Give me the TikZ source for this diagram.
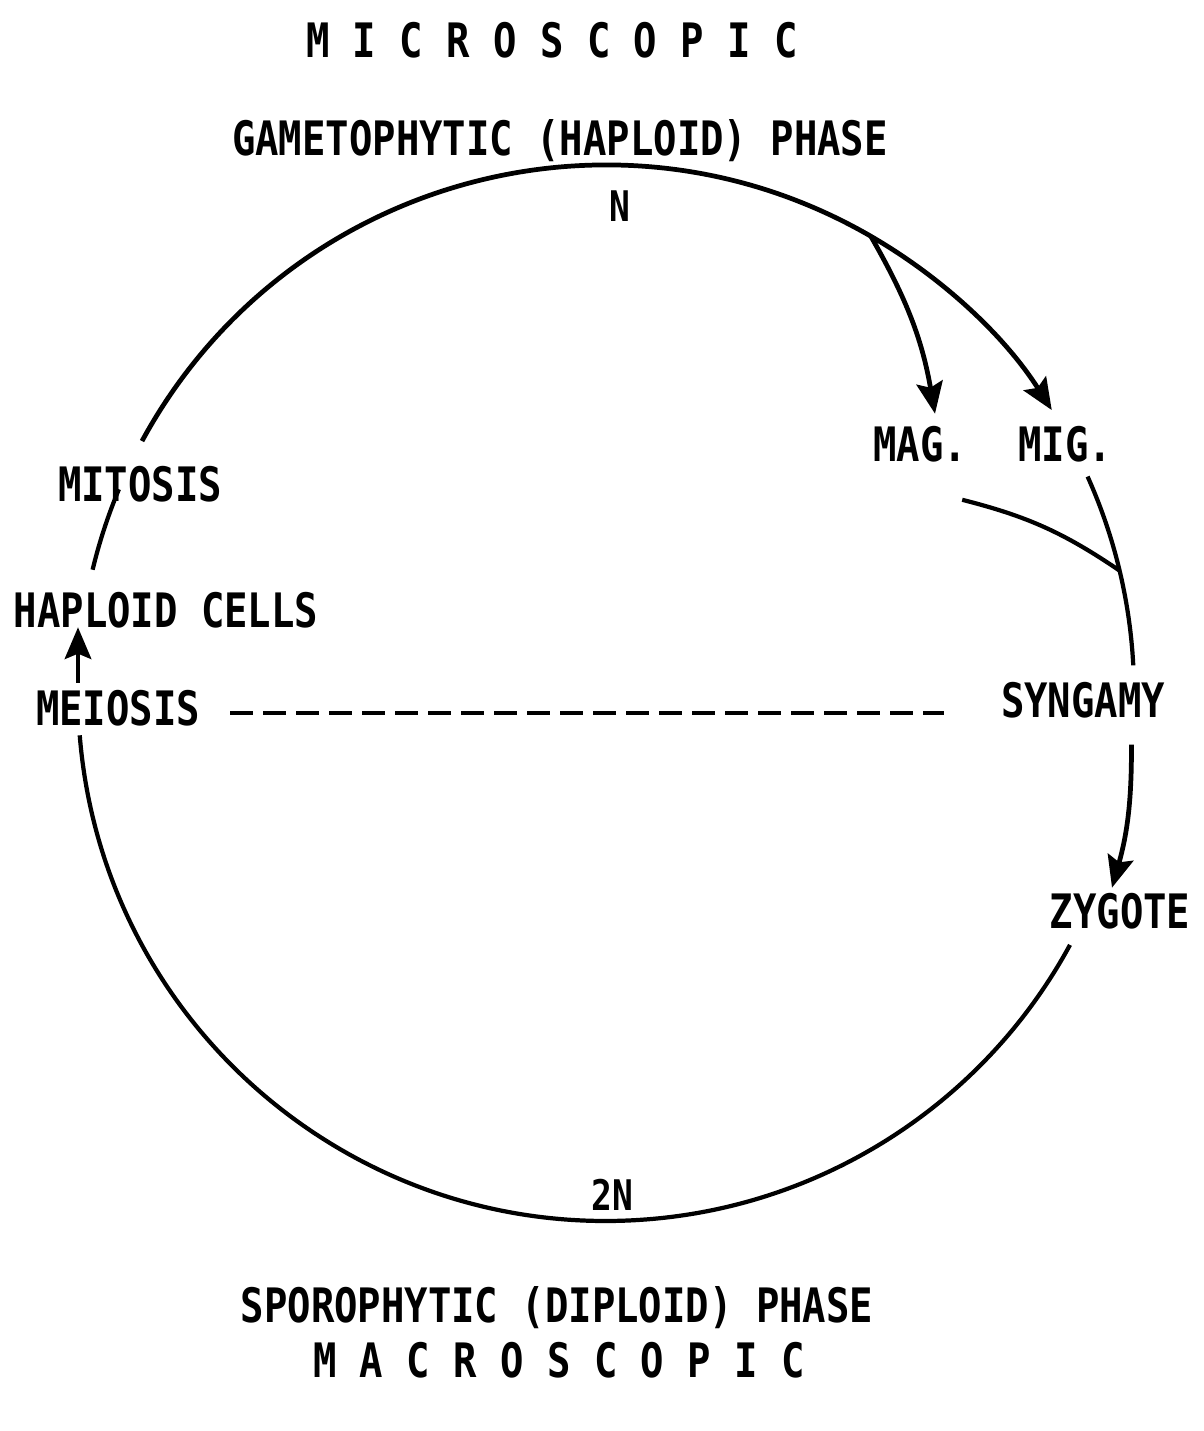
\documentclass[tikz,border=0pt]{standalone}
\usepackage{fontspec}
\setmainfont{DejaVu Sans Mono}[FakeStretch=0.82]
\usetikzlibrary{arrows.meta,calc}
\newcommand{\ringrad}{10.56}
\begin{document}
\begin{tikzpicture}[
    lbl/.style={font=\bfseries\fontsize{27}{30}\selectfont, inner sep=0pt},
    sml/.style={font=\bfseries\fontsize{24}{26}\selectfont, inner sep=0pt},
    ring/.style={line width=2.4pt},
    arr/.style={line width=2.7pt, -{Stealth[length=18pt,width=15pt,inset=3pt]}}
]
    \useasboundingbox (0,0) rectangle (24.06,28.62);
    \coordinate (c) at (12.12,14.76);

    % Titel oben
    \node[lbl] (micro) at (11.04,27.82) {M I C R O S C O P I C};
    \node[lbl] (gameto) at (11.2,25.8) {GAMETOPHYTIC (HAPLOID) PHASE};
    \node[sml] (n) at (12.4,24.5) {N};

    % Gameten
    \node[lbl] (mag) at (18.4,19.74) {MAG.};
    \node[lbl] (mig) at (21.3,19.74) {MIG.};

    % linke Seite
    \node[lbl] (mito) at (2.8,18.94) {MITOSIS};
    \node[lbl] (hap) at (3.32,16.42) {HAPLOID CELLS};
    \node[lbl] (meio) at (2.36,14.46) {MEIOSIS};

    % rechte Seite
    \node[lbl] (syn) at (21.66,14.62) {SYNGAMY};
    \node[lbl] (zyg) at (22.4,10.4) {ZYGOTE};

    % Titel unten
    \node[sml] (twon) at (12.24,4.72) {2N};
    \node[lbl] (sporo) at (11.14,2.46) {SPOROPHYTIC (DIPLOID) PHASE};
    \node[lbl] (macro) at (11.18,1.42) {M A C R O S C O P I C};

    % Kreis
    \coordinate (split) at ($(c)+(59.9:\ringrad)$);
    \coordinate (join) at ($(c)+(13.4:\ringrad)$);
    \coordinate (ax) at (1.56,0);
    \draw[arr] (c) ++(151.5:\ringrad) arc[start angle=151.5, end angle=32.4, radius=\ringrad];
    \draw[ring] (c) ++(157.3:\ringrad) arc[start angle=157.3, end angle=166.5, radius=\ringrad];
    \draw[ring] (c) ++(184.6:\ringrad) arc[start angle=184.6, end angle=331.5, radius=\ringrad];
    \draw[ring] (c) ++(24.2:\ringrad) arc[start angle=24.2, end angle=3, radius=\ringrad];

    % Pfeile
    \draw[arr] (split) to[bend left=10] ($(mag.north)+(0.3,0.24)$);
    \draw[ring] ($(mag.south east)+(-0.1,-0.75)$) to[bend left=10] (join);
    \draw[arr] ($(c)+(-5.6:\ringrad)$) to[bend left=8] ($(zyg.north)+(-0.16,0.1)$);
    \draw[arr] ($(meio.north -| ax)+(0,0.14)$) -- ($(hap.south -| ax)+(0,0.02)$);
    \draw[ring, dash pattern=on 0.46cm off 0.2cm, shorten <=0.6cm, shorten >=1.14cm]
        ($(meio.east)+(0,-0.1)$) -- ($(meio.east -| syn.west)+(0,-0.1)$);
\end{tikzpicture}
\end{document}
